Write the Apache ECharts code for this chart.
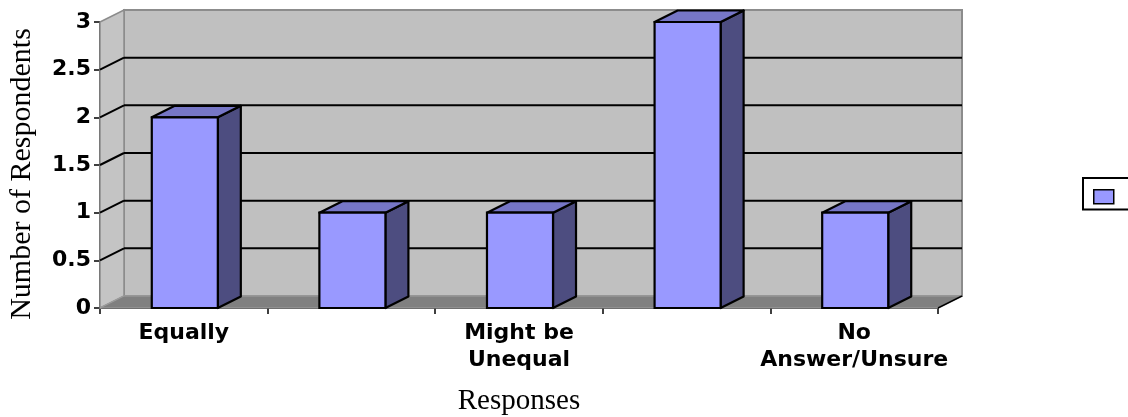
<!DOCTYPE html>
<html>
<head>
<meta charset="utf-8">
<script src="https://cdn.jsdelivr.net/npm/echarts@6/dist/echarts.min.js"></script>
<style>
    html, body {margin: 0; padding: 0; background: #fff;}
    #chart {width: 1128px; height: 417px;}
</style>
</head>
<body>
<div id="chart"></div>
<script>
// data
let categories = ['Equally', 'Might be Equal', 'Might be\nUnequal', 'Unequal', 'No\nAnswer/Unsure'];
let values = [2, 1, 1, 3, 1];
let yTicks = [0, 0.5, 1, 1.5, 2, 2.5, 3];
let seriesName = 'Series1';

let front = '#9999FF', side = '#4D4D80', topc = '#7676C6';
let wallDx = 24, wallDy = -12;   // depth of back wall
let barDx = 23, barDy = -11.5;   // depth of the columns
let barRatio = 0.394;

let sansBold = {fontFamily: 'DejaVu Sans', fontWeight: 'bold', fontSize: 22, color: '#000'};

let chart = echarts.init(document.getElementById('chart'));

let renderWalls = function (params, api) {
    let cs = params.coordSys;
    let x0 = cs.x, x1 = cs.x + cs.width;
    let yTop = api.coord([0, yTicks[yTicks.length - 1]])[1];
    let y0 = api.coord([0, yTicks[0]])[1];
    return {
        type: 'group',
        children: [
            {   // back wall
                type: 'rect',
                shape: {x: x0 + wallDx, y: yTop + wallDy, width: x1 - x0, height: y0 - yTop},
                style: {fill: '#C0C0C0', stroke: '#8C8C8C', lineWidth: 2}
            },
            {   // side wall
                type: 'polygon',
                shape: {points: [[x0, yTop], [x0 + wallDx, yTop + wallDy], [x0 + wallDx, y0 + wallDy], [x0, y0]]},
                style: {fill: '#C4C4C4', stroke: '#8C8C8C', lineWidth: 1.5}
            },
            {   // floor
                type: 'polygon',
                shape: {points: [[x0, y0], [x1, y0], [x1 + wallDx, y0 + wallDy], [x0 + wallDx, y0 + wallDy]]},
                style: {fill: '#808080', stroke: '#A0A0A0', lineWidth: 1}
            },
            {
                type: 'line',
                shape: {x1: x1, y1: y0, x2: x1 + wallDx, y2: y0 + wallDy},
                style: {stroke: '#000', lineWidth: 1.5}
            }
        ]
    };
};

let renderGrid = function (params, api) {
    let cs = params.coordSys;
    let x0 = cs.x, x1 = cs.x + cs.width;
    let y = api.coord([0, api.value(1)])[1];
    return {
        type: 'group',
        children: [
            {type: 'line', shape: {x1: x0, y1: y, x2: x0 + wallDx, y2: y + wallDy}, style: {stroke: '#000', lineWidth: 2}},
            {type: 'line', shape: {x1: x0 + wallDx, y1: y + wallDy, x2: x1 + wallDx, y2: y + wallDy}, style: {stroke: '#000', lineWidth: 2}}
        ]
    };
};

let renderBar = function (params, api) {
    let i = api.value(0), v = api.value(1);
    let top = api.coord([i, v]);
    let base = api.coord([i, 0]);
    let w = api.size([1, 0])[0] * barRatio;
    let xl = top[0] - w / 2 + 1, xr = top[0] + w / 2 + 1;
    let ty = top[1], by = base[1];
    return {
        type: 'group',
        children: [
            {
                type: 'polygon',
                shape: {points: [[xr, ty], [xr + barDx, ty + barDy], [xr + barDx, by + barDy], [xr, by]]},
                style: {fill: side, stroke: '#000', lineWidth: 2.2, lineJoin: 'round'}
            },
            {
                type: 'polygon',
                shape: {points: [[xl, ty], [xl + barDx, ty + barDy], [xr + barDx, ty + barDy], [xr, ty]]},
                style: {fill: topc, stroke: '#000', lineWidth: 2.2, lineJoin: 'round'}
            },
            {
                type: 'rect',
                shape: {x: xl, y: ty, width: w, height: by - ty},
                style: {fill: front, stroke: '#000', lineWidth: 2.2}
            }
        ]
    };
};

let option = {
    animation: false,
    backgroundColor: '#fff',
    grid: {left: 100, right: 190, top: 22, bottom: 109, containLabel: false, outerBoundsMode: 'none'},
    legend: {
        left: 1083, top: 178,
        orient: 'vertical',
        padding: [11, 60, 5, 10],
        borderColor: '#000', borderWidth: 2,
        itemWidth: 20, itemHeight: 14,
        formatter: function () { return ''; },
        textStyle: {fontSize: 12},
        data: [{name: seriesName, icon: 'rect', itemStyle: {color: front, borderColor: '#000', borderWidth: 1.5}}]
    },
    xAxis: {
        type: 'category',
        data: categories,
        name: 'Responses',
        nameLocation: 'middle',
        nameGap: 79,
        nameTextStyle: {fontFamily: 'Liberation Serif', fontSize: 29, color: '#000'},
        axisLine: {lineStyle: {color: '#000', width: 1.5}},
        axisTick: {show: true, interval: 0, length: 6, lineStyle: {color: '#000', width: 1.5}},
        axisLabel: Object.assign({interval: 1, margin: 12, lineHeight: 27, align: 'center'}, sansBold),
        splitLine: {show: false}
    },
    yAxis: {
        type: 'value',
        min: 0, max: 3, interval: 0.5,
        name: 'Number of Respondents',
        nameLocation: 'middle',
        nameGap: 63,
        nameTextStyle: {fontFamily: 'Liberation Serif', fontSize: 30, color: '#000', padding: [0, 18, 0, 0]},
        axisLine: {show: true, lineStyle: {color: '#000', width: 1.5}},
        axisTick: {show: true, length: 6, lineStyle: {color: '#000', width: 1.5}},
        axisLabel: Object.assign({margin: 9}, sansBold),
        splitLine: {show: false}
    },
    series: [
        {
            type: 'custom', name: 'walls', clip: false, silent: true, z: 1,
            renderItem: renderWalls,
            data: [[0, yTicks[0]]]
        },
        {
            type: 'custom', name: 'grid', clip: false, silent: true, z: 2,
            renderItem: renderGrid,
            data: yTicks.slice(1, -1).map(function (v) { return [0, v]; })
        },
        {
            type: 'custom', name: seriesName, clip: false, z: 3,
            itemStyle: {color: front, borderColor: '#000', borderWidth: 1.5},
            renderItem: renderBar,
            encode: {x: 0, y: 1},
            data: values.map(function (v, i) { return [i, v]; })
        }
    ]
};
chart.setOption(option);
</script>
</body>
</html>
